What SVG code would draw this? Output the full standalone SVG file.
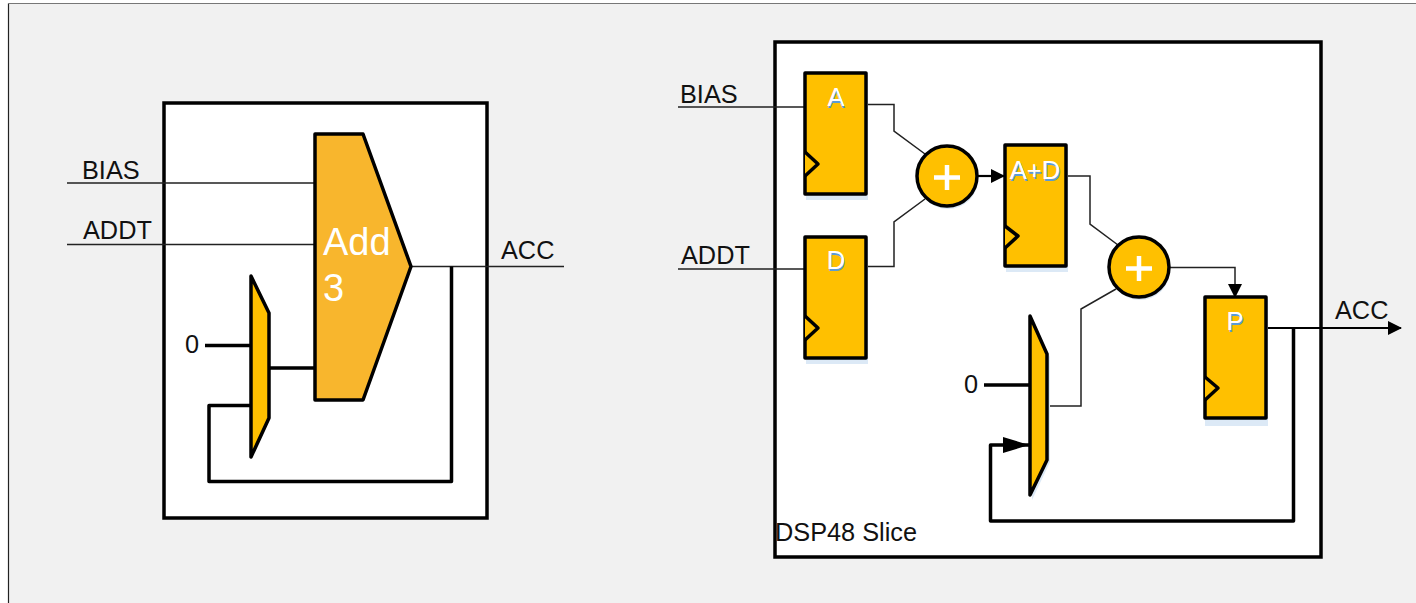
<svg xmlns="http://www.w3.org/2000/svg" width="1416" height="603" viewBox="0 0 1416 603">
<style>
text{font-family:"Liberation Sans",Arial,sans-serif;fill:#111}
.lbl{font-size:25.300px}
.reg{font-size:25.500px;fill:#fff;text-anchor:middle}
.shadow{font-size:25.500px;fill:#5b9bd5;text-anchor:middle}
.box{fill:#fff;stroke:#000;stroke-width:3.500}
.y{fill:#ffc000;stroke:#000;stroke-width:3.500;stroke-linejoin:round}
.sh{fill:#dce9f6;stroke:none}
.thin{fill:none;stroke:#222;stroke-width:1.500}
.thick{fill:none;stroke:#000;stroke-width:3.500;stroke-linejoin:round}
.arrowline{fill:none;stroke:#000;stroke-width:2.200}
</style>
<defs>
<marker id="a" markerUnits="userSpaceOnUse" markerWidth="14" markerHeight="14" refX="13" refY="7" orient="auto"><path d="M0 0L14 7L0 14Z" fill="#000"/></marker>
</defs>
<rect x="8.500" y="3.500" width="1408" height="600" fill="#f1f1f1"/>
<path d="M8.500 603V3.500" stroke="#222" stroke-width="1.200" fill="none"/>
<path d="M8 3.500H1416" stroke="#777" stroke-width="1.200" fill="none"/>
<g id="left-box"><rect class="box" x="164" y="103" width="323" height="415"/></g>
<g id="right-box"><rect class="box" x="775" y="42" width="546" height="515"/></g>
<g id="connectors">
<path class="thin" d="M67 183H315M67 244.500H315M412 266.500H564"/>
<path class="thick" d="M205 345.500H250M270 368H315M451.500 266.500V481.500H209V405.500H250"/>
<path class="thin" d="M678 107H805M678 269H805M867 104.500H894V131L925 154M867 266.500H894V222L925 199M1066 176H1090V224L1118 245M1049 406H1081V309L1116 289"/>
<path class="arrowline" d="M977 176H1004" marker-end="url(#a)"/>
<path class="thin" d="M1170 267.500H1235V297" marker-end="url(#a)"/>
<path class="arrowline" d="M1266 328H1401" marker-end="url(#a)"/>
<path class="thick" d="M984 385H1029M1293.500 328V521H990.500V445H1029"/>
<path d="M1003 437L1029 445L1003 453Z" fill="#000"/>
</g>
<g id="adder3"><path d="M315 134H363L411 266.500L363 400H315Z" fill="#f8b62d" stroke="#000" stroke-width="3.500" stroke-linejoin="round"/>
<text x="323" y="255" font-size="38" style="fill:#fff">Add</text><text x="323" y="301" font-size="38" style="fill:#fff">3</text></g>
<g id="mux-left"><path class="y" d="M251 276L269 313V418L251 457Z"/><text class="lbl" x="185" y="353">0</text></g>
<g id="reg-a"><rect class="sh" x="806" y="75" width="62" height="125"/><rect class="y" x="805" y="73" width="61" height="121"/><path class="y" d="M805 152L818 164L805 176"/><text class="shadow" x="836.500" y="108">A</text><text class="reg" x="836" y="106">A</text></g>
<g id="reg-d"><rect class="sh" x="806" y="239" width="62" height="125"/><rect class="y" x="805" y="237" width="61" height="121"/><path class="y" d="M805 316L818 328L805 340"/><text class="shadow" x="836.500" y="271">D</text><text class="reg" x="836" y="269">D</text></g>
<g id="reg-ad"><rect class="sh" x="1006" y="147" width="62" height="125"/><rect class="y" x="1005" y="145" width="61" height="121"/><path class="y" d="M1005 226L1018 236L1005 248"/><text class="shadow" x="1036" y="181">A+D</text><text class="reg" x="1035" y="179">A+D</text></g>
<g id="reg-p"><rect class="sh" x="1205" y="299" width="63" height="127"/><rect class="y" x="1205" y="297" width="61" height="121"/><path class="y" d="M1205 377L1218 388L1205 400"/><text class="shadow" x="1236" y="332">P</text><text class="reg" x="1235" y="330">P</text></g>
<g id="sum-1"><circle class="sh" cx="948" cy="179" r="30"/><circle class="y" cx="947" cy="176" r="30"/><path d="M934 177.500H960M947 165V190" stroke="#fff" stroke-width="4.500" fill="none"/></g>
<g id="sum-2"><circle class="sh" cx="1140" cy="270" r="30"/><circle class="y" cx="1139" cy="267" r="30"/><path d="M1126 268.500H1152M1139 256V281" stroke="#fff" stroke-width="4.500" fill="none"/></g>
<g id="mux-right"><path class="sh" d="M1032 319L1050 357V462L1032 500Z"/><path class="y" d="M1030 316L1047 354V460L1030 495Z"/><text class="lbl" x="964" y="393">0</text></g>
<g id="labels">
<text class="lbl" x="82" y="179">BIAS</text><text class="lbl" x="83" y="239">ADDT</text><text class="lbl" x="501" y="259">ACC</text>
<text class="lbl" x="680" y="103">BIAS</text><text class="lbl" x="681" y="264">ADDT</text><text class="lbl" x="1335" y="319">ACC</text>
<text class="lbl" x="775" y="541">DSP48 Slice</text>
</g>
</svg>
